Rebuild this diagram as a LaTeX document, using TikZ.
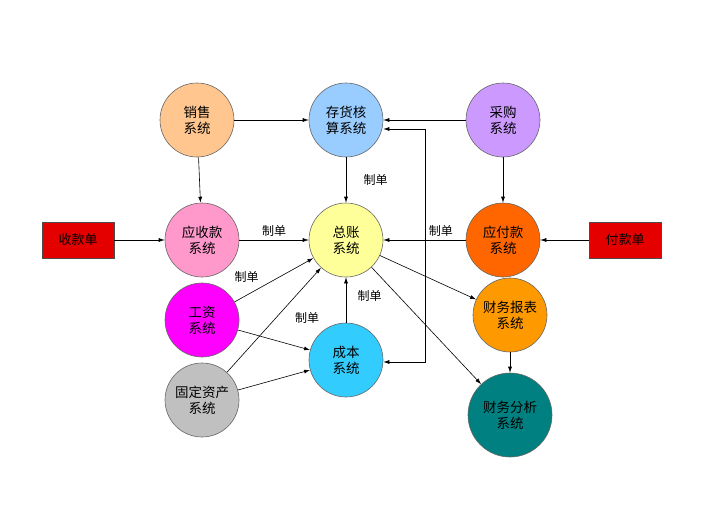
\documentclass[tikz,border=0pt]{standalone}
\usepackage{fontspec}
\setmainfont{Noto Sans CJK SC}
\usetikzlibrary{arrows.meta}
\definecolor{cBlue}{HTML}{99CCFF}
\definecolor{cPeach}{HTML}{FFC68F}
\definecolor{cPurple}{HTML}{CC99FF}
\definecolor{cPink}{HTML}{FF99CC}
\definecolor{cYellow}{HTML}{FFFF99}
\definecolor{cOrange}{HTML}{FF6600}
\definecolor{cMag}{HTML}{FF00FF}
\definecolor{cCyan}{HTML}{33CCFF}
\definecolor{cAmber}{HTML}{FF9900}
\definecolor{cGray}{HTML}{C0C0C0}
\definecolor{cTeal}{HTML}{008080}
\begin{document}
\begin{tikzpicture}[x=1pt,y=-1pt,
  sys/.style={circle,draw=black!60,line width=0.6pt,minimum size=74pt,inner sep=0pt,align=center,font=\fontsize{13.5}{16}\selectfont},
  doc/.style={draw=black!70,fill=red!90!black,minimum width=72pt,minimum height=36pt,font=\fontsize{13}{15}\selectfont},
  arr/.style={-{Latex[length=6pt,width=4pt]},line width=0.6pt},
  lbl/.style={font=\fontsize{12}{14}\selectfont}]
\useasboundingbox (0,0) rectangle (704,528);
\node[sys,fill=cPeach] (xs) at (197,120) {销售\\系统};
\node[sys,fill=cBlue] (ch) at (346,120) {存货核\\算系统};
\node[sys,fill=cPurple] (cg) at (503,120) {采购\\系统};
\node[sys,fill=cPink] (ys) at (202,240) {应收款\\系统};
\node[sys,fill=cYellow] (zz) at (346,240) {总账\\系统};
\node[sys,fill=cOrange] (yf) at (503,240) {应付款\\系统};
\node[doc] (sk) at (78,240) {收款单};
\node[doc] (fk) at (625,240) {付款单};
\node[sys,fill=cMag] (gz) at (202,320) {工资\\系统};
\node[sys,fill=cCyan] (cb) at (346,360) {成本\\系统};
\node[sys,fill=cAmber] (bb) at (510,315) {财务报表\\系统};
\node[sys,fill=cGray] (gd) at (202,400) {固定资产\\系统};
\node[sys,fill=cTeal,minimum size=84pt] (fx) at (510,415) {财务分析\\系统};
\coordinate (t) at (425,129);
\coordinate (b) at (425,362);
\draw[arr] (xs) -- (ch);
\draw[arr] (xs) -- (ys);
\draw[arr] (cg) -- (ch);
\draw[arr] (cg) -- (yf);
\draw[arr] (ch) -- node[lbl,right=14pt,pos=0.5]{制单} (zz);
\draw[arr] (sk) -- (ys);
\draw[arr] (ys) -- node[lbl,above]{制单} (zz);
\draw[arr] (yf) -- node[lbl,above,pos=0.3]{制单} (zz);
\draw[arr] (fk) -- (yf);
\draw[arr] (gz) -- node[lbl,above left,pos=0.35]{制单} (zz);
\draw[arr] (gz) -- (cb);
\draw[arr] (gd) -- (zz);
\draw[arr] (gd) -- (cb);
\draw[arr] (cb) -- node[lbl,right=8pt,pos=0.6]{制单} (zz);
\draw[arr] (zz) -- (bb);
\draw[arr] (zz) -- (fx);
\draw[arr] (bb) -- (fx);
\draw[arr] (t) -- (ch.east |- t);
\draw[arr] (t) -- (b) -- (cb.east |- b);
\node[lbl] (l5) at (307,318) {制单};
\end{tikzpicture}
\end{document}
